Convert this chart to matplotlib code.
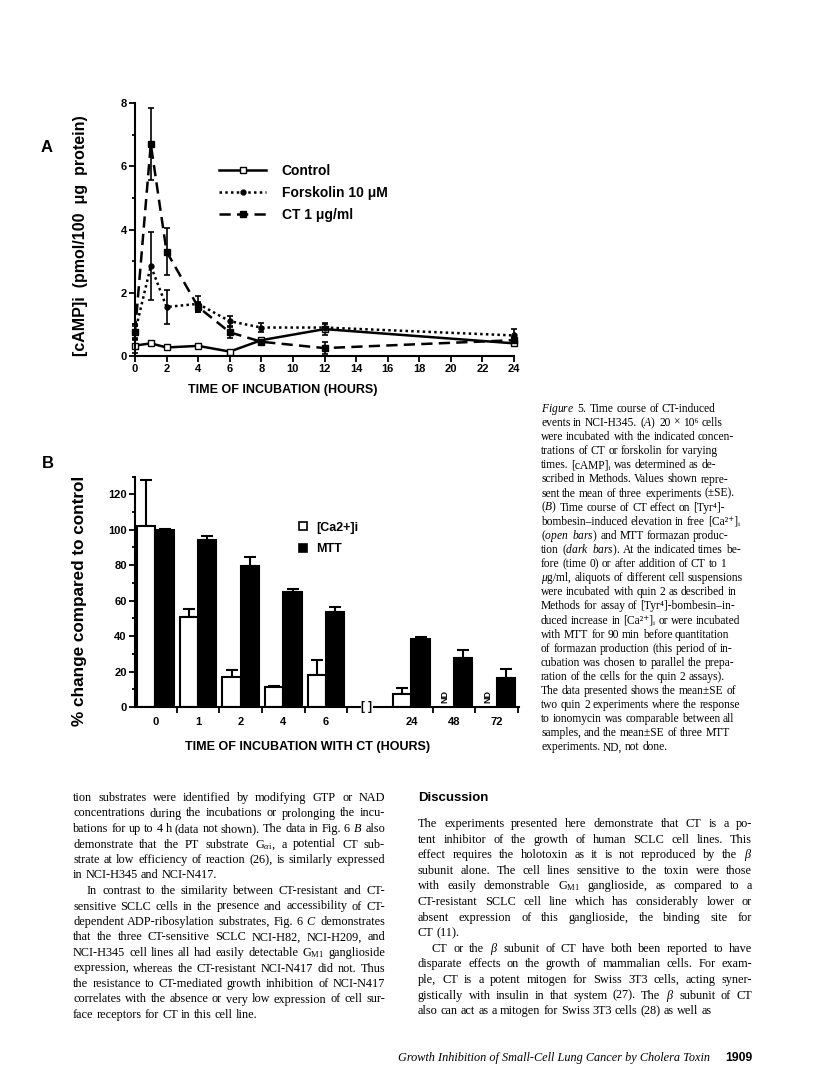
import matplotlib

matplotlib.use("Agg")
from matplotlib import font_manager
from matplotlib.lines import Line2D
from matplotlib.ticker import MultipleLocator, FixedLocator
import matplotlib.pyplot as plt
import numpy as np

# Panel A: intracellular cAMP time course
hours = [0, 1, 2, 4, 6, 8, 12, 24]
control = [0.33, 0.40, 0.27, 0.32, 0.14, 0.50, 0.85, 0.40]
control_err = [0.25, 0.04, 0.04, 0.04, 0.05, 0.08, 0.20, 0.06]
forskolin = [0.75, 2.85, 1.55, 1.65, 1.10, 0.90, 0.90, 0.65]
forskolin_err = [0.25, 1.07, 0.53, 0.25, 0.15, 0.15, 0.12, 0.20]
cholera = [0.75, 6.70, 3.30, 1.55, 0.75, 0.45, 0.25, 0.50]
cholera_err = [0.20, 1.15, 0.75, 0.15, 0.18, 0.10, 0.20, 0.10]
series_labels = ["Control", "Forskolin 10 μM", "CT 1 μg/ml"]

# Panel B: % change compared to control (None = not done)
groups = ["0", "1", "2", "4", "6", "24", "48", "72"]
calcium = [102, 51, 17, 11.5, 18, 7.3, None, None]
calcium_err = [26, 4.2, 4, 0.5, 8.5, 3.2, None, None]
mtt = [100, 94.5, 79.8, 64.8, 53.5, 38.5, 27.4, 16.3]
mtt_err = [0.5, 2.2, 5, 1.7, 3.2, 0.9, 4.5, 5.1]
bar_labels = ["[Ca2+]i", "MTT"]

caption = [
    r"$\mathit{Figure}$ $\mathit{5.}$ Time course of CT-induced",
    r"events in NCI-H345. ($\mathit{A}$) 20 × 10⁶ cells",
    "were incubated with the indicated concen-",
    "trations of CT or forskolin for varying",
    "times. [cAMP]ᵢ was determined as de-",
    "scribed in Methods. Values shown repre-",
    "sent the mean of three experiments (±SE).",
    r"($\mathit{B}$) Time course of CT effect on [Tyr⁴]-",
    "bombesin–induced elevation in free [Ca²⁺]ᵢ",
    r"($\mathit{open}$ $\mathit{bars}$) and MTT formazan produc-",
    r"tion ($\mathit{dark}$ $\mathit{bars}$). At the indicated times be-",
    "fore (time 0) or after addition of CT to 1",
    r"$\mu$g/ml, aliquots of different cell suspensions",
    "were incubated with quin 2 as described in",
    "Methods for assay of [Tyr⁴]-bombesin–in-",
    "duced increase in [Ca²⁺]ᵢ or were incubated",
    "with MTT for 90 min before quantitation",
    "of formazan production (this period of in-",
    "cubation was chosen to parallel the prepa-",
    "ration of the cells for the quin 2 assays).",
    "The data presented shows the mean±SE of",
    "two quin 2 experiments where the response",
    "to ionomycin was comparable between all",
    "samples, and the mean±SE of three MTT",
    "experiments. ND, not done.",
]

left_column = [
    "tion substrates were identified by modifying GTP or NAD",
    "concentrations during the incubations or prolonging the incu-",
    r"bations for up to 4 h (data not shown). The data in Fig. 6 $\mathit{B}$ also",
    r"demonstrate that the PT substrate G$_{\alpha\mathrm{i}}$, a potential CT sub-",
    "strate at low efficiency of reaction (26), is similarly expressed",
    "in NCI-H345 and NCI-N417.",
    "\tIn contrast to the similarity between CT-resistant and CT-",
    "sensitive SCLC cells in the presence and accessibility of CT-",
    r"dependent ADP-ribosylation substrates, Fig. 6 $\mathit{C}$ demonstrates",
    "that the three CT-sensitive SCLC NCI-H82, NCI-H209, and",
    r"NCI-H345 cell lines all had easily detectable G$_{\mathrm{M1}}$ ganglioside",
    "expression, whereas the CT-resistant NCI-N417 did not. Thus",
    "the resistance to CT-mediated growth inhibition of NCI-N417",
    "correlates with the absence or very low expression of cell sur-",
    "face receptors for CT in this cell line.",
]

right_column = [
    "The experiments presented here demonstrate that CT is a po-",
    "tent inhibitor of the growth of human SCLC cell lines. This",
    r"effect requires the holotoxin as it is not reproduced by the $\beta$",
    "subunit alone. The cell lines sensitive to the toxin were those",
    r"with easily demonstrable G$_{\mathrm{M1}}$ ganglioside, as compared to a",
    "CT-resistant SCLC cell line which has considerably lower or",
    "absent expression of this ganglioside, the binding site for",
    "CT (11).",
    r"\tCT or the $\beta$ subunit of CT have both been reported to have",
    "disparate effects on the growth of mammalian cells. For exam-",
    "ple, CT is a potent mitogen for Swiss 3T3 cells, acting syner-",
    r"gistically with insulin in that system (27). The $\beta$ subunit of CT",
    "also can act as a mitogen for Swiss 3T3 cells (28) as well as",
]

W, H = 816, 1080

plt.rcParams["mathtext.fontset"] = "custom"
plt.rcParams["mathtext.rm"] = "Liberation Serif"
plt.rcParams["mathtext.it"] = "Liberation Serif:italic"
plt.rcParams["mathtext.bf"] = "Liberation Serif:bold"

installed = {f.name for f in font_manager.fontManager.ttflist}
SANS = "Liberation Sans Narrow" if "Liberation Sans Narrow" in installed else "Liberation Sans"
SERIF = ["Liberation Serif", "DejaVu Serif"]


def fx(x):
    return x / W


def fy(y):
    return 1 - y / H


def draw_lines(fig, lines, x0, x1, y0, step, size, justify=True, indent=14):
    renderer = fig.canvas.get_renderer()
    for k, line in enumerate(lines):
        start = x0
        if line.startswith("\t") or line.startswith(r"\t"):
            start += indent
            line = line[1:] if line.startswith("\t") else line[2:]
        last = k == len(lines) - 1 or lines[k + 1].startswith(("\t", r"\t"))
        words = line.split(" ")
        texts = [
            fig.text(0, fy(y0 + k * step), w, fontsize=size, family=SERIF, va="baseline")
            for w in words
        ]
        widths = [t.get_window_extent(renderer).width for t in texts]
        gap = size * 100 / 72 * 0.25
        if justify and not last and len(words) > 1:
            gap = (x1 - start - sum(widths)) / (len(words) - 1)
        x = start
        for t, wd in zip(texts, widths):
            t.set_x(fx(x))
            x += wd + gap


fig = plt.figure(figsize=(W / 100, H / 100), dpi=100)

# ---------------- Panel A ----------------
axA = fig.add_axes([fx(135), fy(356), 379 / W, 253 / H])
styles = [
    dict(ls="-", marker="s", mfc="white", ms=4),
    dict(ls=(0, (1, 1.3)), marker="o", mfc="black", ms=3.5),
    dict(ls=(0, (4.5, 2.5)), marker="s", mfc="black", ms=4),
]
for values, errs, st in zip(
    [control, forskolin, cholera], [control_err, forskolin_err, cholera_err], styles
):
    axA.errorbar(
        hours, values, yerr=errs, color="black", lw=1.8, mec="black",
        capsize=2.5, elinewidth=1.2, capthick=1.2, clip_on=False, **st
    )

axA.set_xlim(0, 24)
axA.set_ylim(0, 8)
axA.xaxis.set_major_locator(MultipleLocator(2))
axA.yaxis.set_major_locator(MultipleLocator(2))
axA.yaxis.set_minor_locator(MultipleLocator(1))
for s in ["top", "right"]:
    axA.spines[s].set_visible(False)
for s in ["left", "bottom"]:
    axA.spines[s].set_linewidth(1.5)
axA.tick_params(which="both", direction="out", width=1.3, length=4, pad=2)
axA.tick_params(which="minor", length=2.5)
for lab in axA.get_xticklabels() + axA.get_yticklabels():
    lab.set_fontfamily(SANS)
    lab.set_fontweight("bold")
    lab.set_fontsize(8)

handles = [
    Line2D([], [], color="black", lw=1.8, mec="black", **st) for st in styles
]
axA.legend(
    handles, series_labels, loc="upper left", bbox_to_anchor=(0.222, 0.758),
    frameon=False, handlelength=3.4, handletextpad=1.1, labelspacing=0.55,
    borderpad=0, borderaxespad=0, prop=dict(family=SANS, weight="bold", size=10),
)

fig.text(fx(283), fy(390), "TIME OF INCUBATION (HOURS)", ha="center", va="center",
         family=SANS, weight="bold", fontsize=9)
fig.text(fx(80), fy(236), "[cAMP]i  (pmol/100  μg  protein)", ha="center", va="center",
         rotation=90, family=SANS, weight="bold", fontsize=11.5)
fig.text(fx(47), fy(147), "A", ha="center", va="center", family=SANS, weight="bold", fontsize=12)

# ---------------- Panel B ----------------
axB = fig.add_axes([fx(135), fy(707), 384 / W, 230.4 / H])
idx = np.arange(len(groups))
slots = idx + (idx >= 5)
bw = 0.43
ca_idx = [i for i, v in enumerate(calcium) if v is not None]
ca_x = slots[ca_idx] - bw / 2
ca_v = [calcium[i] for i in ca_idx]
ca_e = [calcium_err[i] for i in ca_idx]
axB.bar(ca_x, ca_v, bw, color="white", edgecolor="black", lw=1.5, zorder=2)
axB.bar(slots + bw / 2, mtt, bw, color="black", edgecolor="black", lw=1.5, zorder=2)
axB.errorbar(ca_x, ca_v, yerr=[np.zeros(len(ca_v)), ca_e], fmt="none", ecolor="black",
             elinewidth=1.5, capsize=4, capthick=1.5, zorder=1)
axB.errorbar(slots + bw / 2, mtt, yerr=[np.zeros(len(mtt)), mtt_err], fmt="none",
             ecolor="black", elinewidth=1.5, capsize=4, capthick=1.5, zorder=1)
for i, v in enumerate(calcium):
    if v is None:
        axB.text(slots[i] - bw / 2, 2, "ND", rotation=90, ha="center", va="bottom",
                 family=SANS, weight="bold", fontsize=6.5)

x_lo, x_hi = -0.48, slots[-1] + 0.52
brk = 4.95
axB.set_xlim(x_lo, x_hi)
axB.set_ylim(0, 130)
axB.plot([x_lo, brk - 0.16], [0, 0], color="black", lw=1.5, clip_on=False)
axB.plot([brk + 0.16, x_hi], [0, 0], color="black", lw=1.5, clip_on=False)
axB.text(brk, 0, "[ ]", ha="center", va="center", family=SANS, weight="bold", fontsize=8.5)

axB.set_xticks(slots)
axB.set_xticklabels(groups)
axB.xaxis.set_minor_locator(FixedLocator([s + 0.5 for s in slots[:-1]] + [slots[-1] + 0.5]))
axB.tick_params(axis="x", which="major", length=0, pad=7)
axB.tick_params(axis="x", which="minor", direction="out", length=4, width=1.3)
axB.yaxis.set_major_locator(MultipleLocator(20))
axB.yaxis.set_minor_locator(MultipleLocator(10))
axB.tick_params(axis="y", which="both", direction="out", width=1.3, length=4, pad=2)
axB.tick_params(axis="y", which="minor", length=2.5)
for s in ["top", "right", "bottom"]:
    axB.spines[s].set_visible(False)
axB.spines["left"].set_linewidth(1.5)
for lab in axB.get_xticklabels() + axB.get_yticklabels():
    lab.set_fontfamily(SANS)
    lab.set_fontweight("bold")
    lab.set_fontsize(8)

bar_handles = [
    Line2D([], [], ls="none", marker="s", ms=6, mfc=c, mec="black", mew=1.2)
    for c in ["white", "black"]
]
axB.legend(
    bar_handles, bar_labels, loc="upper left", bbox_to_anchor=(0.42, 0.805),
    frameon=False, handlelength=1.0, handletextpad=0.6, labelspacing=0.75,
    borderpad=0, borderaxespad=0, prop=dict(family=SANS, weight="bold", size=9),
)

fig.text(fx(308), fy(747), "TIME OF INCUBATION WITH CT (HOURS)", ha="center", va="center",
         family=SANS, weight="bold", fontsize=9)
fig.text(fx(80), fy(601), "% change compared to control", ha="center", va="center",
         rotation=90, family=SANS, weight="bold", fontsize=12.3)
fig.text(fx(48), fy(463), "B", ha="center", va="center", family=SANS, weight="bold", fontsize=12)

# ---------------- page text ----------------
draw_lines(fig, caption, 541, 753, 412, 14.1, 8.3, justify=False)
draw_lines(fig, left_column, 73, 385, 801, 15.5, 8.8, justify=True)
fig.text(fx(418), fy(801), "Discussion", family="Liberation Sans", weight="bold",
         fontsize=9.5, va="baseline")
draw_lines(fig, right_column, 418, 752, 827, 15.6, 8.8, justify=True)
fig.text(fx(398), fy(1061), "Growth Inhibition of Small-Cell Lung Cancer by Cholera Toxin",
         family=SERIF, style="italic", fontsize=8.8, va="baseline")
fig.text(fx(725), fy(1061), "1909", family="Liberation Sans", weight="bold",
         fontsize=8.8, va="baseline")

fig.savefig("out.png", dpi=100)
